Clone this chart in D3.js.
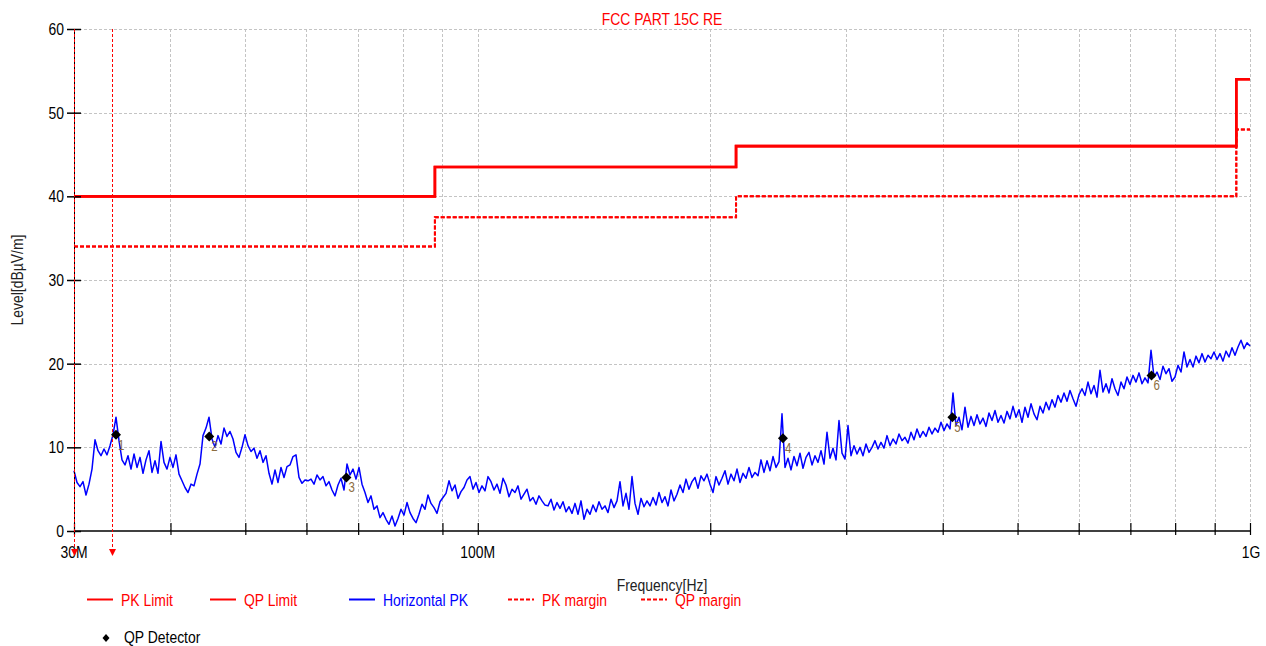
<!DOCTYPE html>
<html><head><meta charset="utf-8">
<script src="https://cdn.jsdelivr.net/npm/d3@7"></script>
<style>
html,body{margin:0;padding:0;background:#fff;}
svg{display:block;}
text{font-family:"Liberation Sans",Arial,sans-serif;}
</style></head><body>
<svg id="chart" width="1266" height="646"></svg>
<script>
// Receiver sweep (log-spaced points from start to stop)
const sweepStartMHz = 30;
const sweepStopMHz = 1000;

// Horizontal PK trace, dBµV/m, one value per sweep point
const traceLevels = [
  7.2,5.8,5.3,5.9,4.3,5.6,7.4,10.9,9.6,9.0,
  9.8,9.1,10.2,11.5,13.6,10.8,8.5,7.9,9.0,7.4,
  9.2,7.6,8.8,6.9,8.5,9.6,7.0,8.4,6.9,10.7,
  8.2,7.4,8.8,7.6,9.1,6.8,6.0,5.2,4.6,5.6,
  5.4,6.8,8.0,11.4,12.3,13.6,11.0,10.0,11.4,10.4,
  12.3,11.3,11.9,11.0,9.4,8.8,10.0,11.5,10.2,9.5,
  9.9,8.7,9.6,8.2,9.0,6.9,5.6,7.3,5.8,7.6,
  6.4,7.7,7.9,8.9,9.1,6.4,5.7,6.1,6.0,
  6.2,5.6,6.7,6.1,6.5,5.4,5.9,4.9,4.2,5.5,
  6.3,4.9,8.0,6.7,7.4,6.2,7.6,5.6,4.6,3.4,
  4.2,2.6,3.0,1.6,2.2,1.4,0.8,1.8,0.6,1.5,
  2.6,1.9,3.4,2.2,1.5,1.0,2.0,3.2,2.6,4.3,
  3.3,2.8,2.1,3.5,4.0,4.5,6.0,4.8,5.5,3.9,
  4.7,5.2,6.1,6.5,5.0,5.8,4.6,5.4,4.8,6.5,
  5.9,4.9,5.6,4.5,6.3,5.5,4.1,5.0,4.6,5.4,
  3.8,4.4,5.0,3.6,4.0,3.2,4.2,3.6,3.1,
  3.0,3.8,2.5,3.4,2.7,3.5,2.3,2.9,2.1,3.3,
  2.0,3.6,1.4,2.6,2.0,3.1,2.3,3.5,2.6,3.0,
  2.2,3.8,2.8,3.6,5.9,3.0,4.5,2.6,6.5,3.3,
  2.0,3.9,2.9,3.6,3.0,4.0,3.1,4.6,3.4,4.1,
  3.0,4.9,3.6,4.4,5.5,4.6,6.2,5.0,5.9,6.4,
  5.1,6.6,6.0,6.8,5.6,4.6,6.5,5.5,6.3,7.2,
  5.6,6.8,6.0,7.4,5.8,6.9,6.3,7.6,6.4,7.0,
  6.6,8.5,7.0,8.4,7.2,8.9,7.6,8.3,
  14.0,7.6,8.7,7.3,8.9,7.8,9.3,7.5,8.8,9.4,
  7.9,9.0,8.2,9.6,8.0,11.8,8.7,9.9,8.5,13.2,
  9.3,8.6,12.6,9.0,10.2,9.2,10.0,9.0,10.4,9.4,
  10.0,10.8,9.8,10.6,9.9,11.4,10.2,11.0,10.4,11.6,
  10.8,11.2,10.5,11.8,10.9,12.2,11.2,11.9,11.3,12.4,
  11.6,12.3,11.8,13.0,12.0,12.8,12.2,16.5,12.6,13.6,
  12.1,14.8,12.4,13.7,12.6,13.9,12.8,13.5,12.5,14.1,
  13.2,14.4,13.0,13.8,12.9,14.3,13.4,14.9,
  13.6,14.5,13.0,14.8,13.6,15.2,14.0,13.3,14.9,14.1,
  15.4,14.5,15.7,14.8,16.2,15.4,16.5,15.5,16.8,15.8,
  14.9,16.3,17.0,16.2,17.8,16.4,17.4,16.0,19.2,16.6,
  17.6,16.5,18.2,17.0,16.2,17.8,17.0,18.4,17.5,18.6,
  17.8,18.9,17.6,18.3,17.7,21.6,18.4,19.0,18.1,19.7,
  18.8,19.4,17.9,18.4,19.8,19.0,21.4,19.6,20.5,19.6,
  20.9,20.1,21.2,20.2,21.0,20.6,21.4,20.5,21.2,20.3,
  21.5,20.8,21.9,21.0,22.0,22.8,21.8,22.5,22.1
];

// FCC Part 15 class B radiated limits (step breakpoints)
const limitFreqMHz = [30, 88, 216, 960, 1000];
const pkLimit  = [40, 43.5, 46, 54, 54];
const qpLimit  = [40, 43.5, 46, 54, 54];
const pkMargin = [34, 37.5, 40, 48, 48];
const qpMargin = [34, 37.5, 40, 48, 48];

// Quasi-peak final measurements
const qpFreqMHz = [34.0, 44.9, 67.6, 248.4, 411.7, 745.5];
const qpLevels  = [11.5, 11.3, 6.4, 11.1, 13.6, 18.6];
const qpNames   = ["1", "2", "3", "4", "5", "6"];

// Marker cursors
const cursorFreqMHz = [30, 33.6];

// Axes
const yTicks = [0, 10, 20, 30, 40, 50, 60];
const xTickMHz = [30, 40, 50, 60, 70, 80, 90, 100, 200, 300, 400, 500, 600, 700, 800, 900, 1000];
const xLabelMHz = [30, 100, 1000];
const xLabelText = ["30M", "100M", "1G"];

const svg = d3.select("#chart");
const x = d3.scaleLog().domain([sweepStartMHz, sweepStopMHz]).range([74, 1250]);
const y = d3.scaleLinear().domain([0, 60]).range([531, 29]);

const RED = "#ff0000", BLUE = "#0000ff";

// Condensed text (Arial-Narrow-like proportions)
function txt(g, px, py, s, o = {}) {
  const rot = o.rotate ? ` rotate(${o.rotate})` : "";
  return g.append("text")
    .attr("transform", `translate(${px},${py})${rot} scale(0.82,1)`)
    .attr("text-anchor", o.anchor || "start")
    .attr("font-size", o.size || 17)
    .attr("fill", o.fill || "#000")
    .text(s);
}

// Grid
const grid = svg.append("g").attr("stroke", "#c4c4c4").attr("stroke-width", 1)
  .attr("stroke-dasharray", "3,2").attr("shape-rendering", "crispEdges");
grid.selectAll("line.v").data(xTickMHz.filter(f => f > 30)).join("line")
  .attr("x1", d => Math.round(x(d)) + 0.5).attr("x2", d => Math.round(x(d)) + 0.5)
  .attr("y1", y(60)).attr("y2", y(0));
grid.selectAll("line.h").data(yTicks.filter(v => v > 0)).join("line")
  .attr("x1", x(30)).attr("x2", x(1000))
  .attr("y1", d => Math.round(y(d)) + 0.5).attr("y2", d => Math.round(y(d)) + 0.5);

// Limit and margin lines
const stepLine = vals => d3.line().curve(d3.curveStepAfter)
  .x((d, i) => x(limitFreqMHz[i])).y(d => y(d))(vals);
svg.append("path").attr("d", stepLine(pkLimit)).attr("fill", "none").attr("stroke", RED).attr("stroke-width", 2.6);
svg.append("path").attr("d", stepLine(qpLimit)).attr("fill", "none").attr("stroke", RED).attr("stroke-width", 2.6);
svg.append("path").attr("d", stepLine(pkMargin)).attr("fill", "none").attr("stroke", RED).attr("stroke-width", 2).attr("stroke-dasharray", "4,2");
svg.append("path").attr("d", stepLine(qpMargin)).attr("fill", "none").attr("stroke", RED).attr("stroke-width", 2).attr("stroke-dasharray", "4,2");

// Trace
const n = traceLevels.length;
const sweepFreq = i => sweepStartMHz * Math.pow(sweepStopMHz / sweepStartMHz, i / (n - 1));
svg.append("path")
  .attr("d", d3.line().x((d, i) => x(sweepFreq(i))).y(d => y(d))(traceLevels))
  .attr("fill", "none").attr("stroke", BLUE).attr("stroke-width", 1.5).attr("stroke-linejoin", "round");

// Axes
const axL = svg.append("g").attr("transform", `translate(${x(30)},0)`)
  .call(d3.axisLeft(y).tickValues(yTicks).tickSize(7).tickFormat(""));
axL.select(".domain").attr("stroke", "#000").attr("d", `M0.5,${y(60)}V${y(0)}`);
axL.selectAll(".tick line").attr("x1", 7).attr("stroke", "#000").attr("stroke-width", 1.5);
const axB = svg.append("g").attr("transform", `translate(0,${y(0)})`)
  .call(d3.axisBottom(x).tickValues(xTickMHz).tickSize(4).tickFormat(""));
axB.select(".domain").attr("stroke", "#000").attr("stroke-width", 1.5).attr("d", `M${x(30)},0H${x(1000)}`);
axB.selectAll(".tick line").attr("y1", -8).attr("stroke", "#000").attr("stroke-width", 1.2);

const labels = svg.append("g");
yTicks.forEach(v => txt(labels, 64, y(v) + 6, String(v), { anchor: "end" }));
xLabelMHz.forEach((f, i) => txt(labels, x(f) + (i === 2 ? 1 : 0), 558, xLabelText[i], { anchor: "middle" }));

// Cursors
cursorFreqMHz.forEach(f => {
  const cx = Math.round(x(f)) + 0.5;
  svg.append("line").attr("x1", cx).attr("x2", cx).attr("y1", y(60)).attr("y2", 550)
    .attr("stroke", RED).attr("stroke-width", 1).attr("stroke-dasharray", "3,2");
  svg.append("path").attr("d", `M${cx - 3.5},549L${cx + 3.5},549L${cx},556Z`).attr("fill", RED);
});

// QP detector points
const qp = svg.append("g");
qpFreqMHz.forEach((f, i) => {
  const px = x(f), py = y(qpLevels[i]);
  qp.append("path").attr("d", `M${px},${py - 5}L${px + 5},${py}L${px},${py + 5}L${px - 5},${py}Z`).attr("fill", "#000");
  txt(qp, px + 2, py + 15, qpNames[i], { size: 14, fill: "#8c6d3f" });
});

// Titles
txt(svg, 662, 25, "FCC PART 15C RE", { anchor: "middle", fill: RED });
txt(svg, 662, 591, "Frequency[Hz]", { anchor: "middle", fill: "#222" });
txt(svg, 23, 280, "Level[dBµV/m]", { anchor: "middle", rotate: -90, fill: "#222" });

// Legend
const leg = svg.append("g");
const legendItems = [
  { x: 87, label: "PK Limit", color: RED, dash: null },
  { x: 210, label: "QP Limit", color: RED, dash: null },
  { x: 349, label: "Horizontal PK", color: BLUE, dash: null },
  { x: 508, label: "PK margin", color: RED, dash: "4,2" },
  { x: 641, label: "QP margin", color: RED, dash: "4,2" }
];
legendItems.forEach(it => {
  leg.append("line").attr("x1", it.x).attr("x2", it.x + 26).attr("y1", 599.5).attr("y2", 599.5)
    .attr("stroke", it.color).attr("stroke-width", 2).attr("stroke-dasharray", it.dash);
  txt(leg, it.x + 34, 606, it.label, { fill: it.color });
});
leg.append("path").attr("d", "M106,634L109.5,638L106,642L102.5,638Z").attr("fill", "#000");
txt(leg, 124, 643, "QP Detector", { fill: "#000" });
</script>
</body></html>
